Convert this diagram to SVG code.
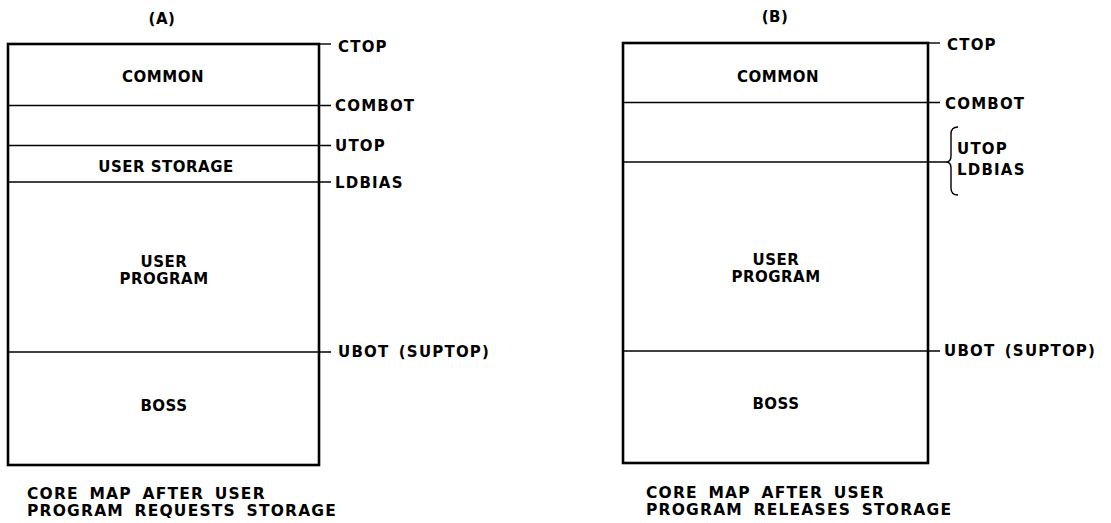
<svg xmlns="http://www.w3.org/2000/svg" width="1111" height="523" viewBox="0 0 1111 523">
<style>
text{font-family:"DejaVu Sans","Liberation Sans",sans-serif;font-weight:bold;font-size:15px;fill:#000;letter-spacing:0.5px}
.c{text-anchor:middle}
.cap{font-size:15.5px;letter-spacing:1.2px;word-spacing:4px}
.lb{letter-spacing:1.2px;word-spacing:3px}
.box{fill:none;stroke:#000;stroke-width:2.6}
.ln{stroke:#000;stroke-width:1.4;fill:none}
</style>
<rect width="1111" height="523" fill="#fff"/>
<g id="mapA">
<text class="c" x="162" y="24">(A)</text>
<rect class="box" x="8" y="44" width="311" height="421"/>
<text class="c" x="163" y="82">COMMON</text>
<text class="c" x="166" y="172">USER STORAGE</text>
<text class="c" x="164" y="267">USER</text>
<text class="c" x="164" y="284">PROGRAM</text>
<text class="c" x="164" y="411">BOSS</text>
<text class="cap" x="27" y="499">CORE MAP AFTER USER</text>
<text class="cap" x="27" y="516">PROGRAM REQUESTS STORAGE</text>
</g>
<g id="mapB">
<text class="c" x="775" y="22">(B)</text>
<rect class="box" x="623" y="43" width="305" height="420"/>
<text class="c" x="778" y="82">COMMON</text>
<text class="c" x="776" y="265">USER</text>
<text class="c" x="776" y="282">PROGRAM</text>
<text class="c" x="776" y="409">BOSS</text>
<text class="cap" x="646" y="498">CORE MAP AFTER USER</text>
<text class="cap" x="646" y="515">PROGRAM RELEASES STORAGE</text>
</g>
<g id="connectors">
<line class="ln" x1="319" y1="44" x2="331" y2="44"/>
<line class="ln" x1="8" y1="105.5" x2="331" y2="105.5"/>
<line class="ln" x1="8" y1="145.5" x2="331" y2="145.5"/>
<line class="ln" x1="8" y1="182" x2="331" y2="182"/>
<line class="ln" x1="8" y1="352" x2="331" y2="352"/>
<line class="ln" x1="928" y1="43" x2="940" y2="43"/>
<line class="ln" x1="623" y1="102.5" x2="940" y2="102.5"/>
<line class="ln" x1="623" y1="162" x2="946" y2="162"/>
<line class="ln" x1="623" y1="351" x2="940" y2="351"/>
<path class="ln" d="M958 127 Q951 127 951 134 L951 156 Q951 162 946 162 Q951 162 951 168 L951 188 Q951 195 958 195"/>
</g>
<g id="labels">
<text class="lb" x="338" y="52">CTOP</text>
<text class="lb" x="335" y="110.5">COMBOT</text>
<text class="lb" x="335" y="151">UTOP</text>
<text class="lb" x="335" y="188">LDBIAS</text>
<text class="lb" x="338" y="357">UBOT (SUPTOP)</text>
<text class="lb" x="947" y="49.5">CTOP</text>
<text class="lb" x="945" y="109">COMBOT</text>
<text class="lb" x="957" y="153.5">UTOP</text>
<text class="lb" x="957" y="175">LDBIAS</text>
<text class="lb" x="944" y="356">UBOT (SUPTOP)</text>
</g>
</svg>
